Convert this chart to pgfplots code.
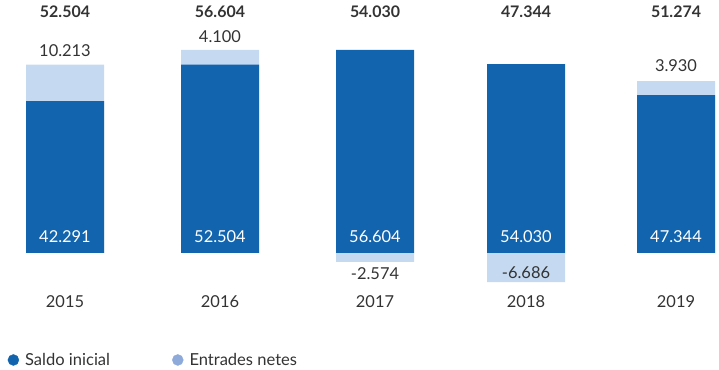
\documentclass[border=0pt]{standalone}
\usepackage{pgfplots}
\pgfplotsset{compat=1.18}
\usepackage{fontspec}
\setmainfont{Lato}
\definecolor{darkb}{HTML}{1164AD}
\definecolor{lightb}{HTML}{C5D9F0}
\definecolor{legl}{HTML}{8EAADB}
\definecolor{txt}{HTML}{333333}
\tikzset{lab/.style={font=\fontsize{16.5}{19}\selectfont, text=txt, inner sep=0pt},
  tot/.style={font=\fontsize{16}{19}\selectfont\bfseries, text=txt, inner sep=0pt}}
\begin{document}
\begin{tikzpicture}
\path (0,0) rectangle (719bp,370bp);
\begin{axis}[at={(0,0)}, anchor=south west, scale only axis,
  width=719bp, height=370bp, xmin=0, xmax=719, ymin=-32.59, ymax=70.47,
  hide axis, clip=false,
  legend style={at={(axis cs:7.5,-29.8)}, anchor=west, draw=none, fill=none,
    legend columns=2, font=\fontsize{16.6}{19}\selectfont\color{txt},
    nodes={inner xsep=6bp, inner ysep=0pt},
    /tikz/every even column/.append style={column sep=56bp},
    legend cell align=left, inner sep=0pt},
  legend image code/.code={\fill[#1] (0,0) circle (5.5bp);}]
\addlegendimage{darkb}
\addlegendentry{Saldo inicial}
\addlegendimage{legl}
\addlegendentry{Entrades netes}
% light (total or negative net entries)
\addplot[ybar, bar width=78bp, bar shift=0pt, fill=lightb, draw=none, forget plot]
  coordinates {(65,52.5) (220,56.6) (375,-2.5) (526,-8.1) (676,47.9)};
% dark (saldo inicial)
\addplot[ybar, bar width=78bp, bar shift=0pt, fill=darkb, draw=none, forget plot]
  coordinates {(65,42.3) (220,52.5) (375,56.6) (526,52.6) (676,44.0)};
% totals
\node[tot] at (axis cs:65,67.1) {52.504};
\node[tot] at (axis cs:220,67.1) {56.604};
\node[tot] at (axis cs:375,67.1) {54.030};
\node[tot] at (axis cs:526,67.1) {47.344};
\node[tot] at (axis cs:676,67.1) {51.274};
% net entries
\node[lab] at (axis cs:65,56.5) {10.213};
\node[lab] at (axis cs:220,60.2) {4.100};
\node[lab] at (axis cs:676,52.1) {3.930};
\node[lab] at (axis cs:375,-5.85) {-2.574};
\node[lab] at (axis cs:526,-5.57) {-6.686};
% saldo inicial
\node[lab, text=white] at (axis cs:65,4.7) {42.291};
\node[lab, text=white] at (axis cs:220,4.7) {52.504};
\node[lab, text=white] at (axis cs:375,4.7) {56.604};
\node[lab, text=white] at (axis cs:526,4.7) {54.030};
\node[lab, text=white] at (axis cs:676,4.7) {47.344};
% years
\node[lab] at (axis cs:65,-13.65) {2015};
\node[lab] at (axis cs:220,-13.65) {2016};
\node[lab] at (axis cs:375,-13.65) {2017};
\node[lab] at (axis cs:526,-13.65) {2018};
\node[lab] at (axis cs:676,-13.65) {2019};
\end{axis}
\end{tikzpicture}
\end{document}
